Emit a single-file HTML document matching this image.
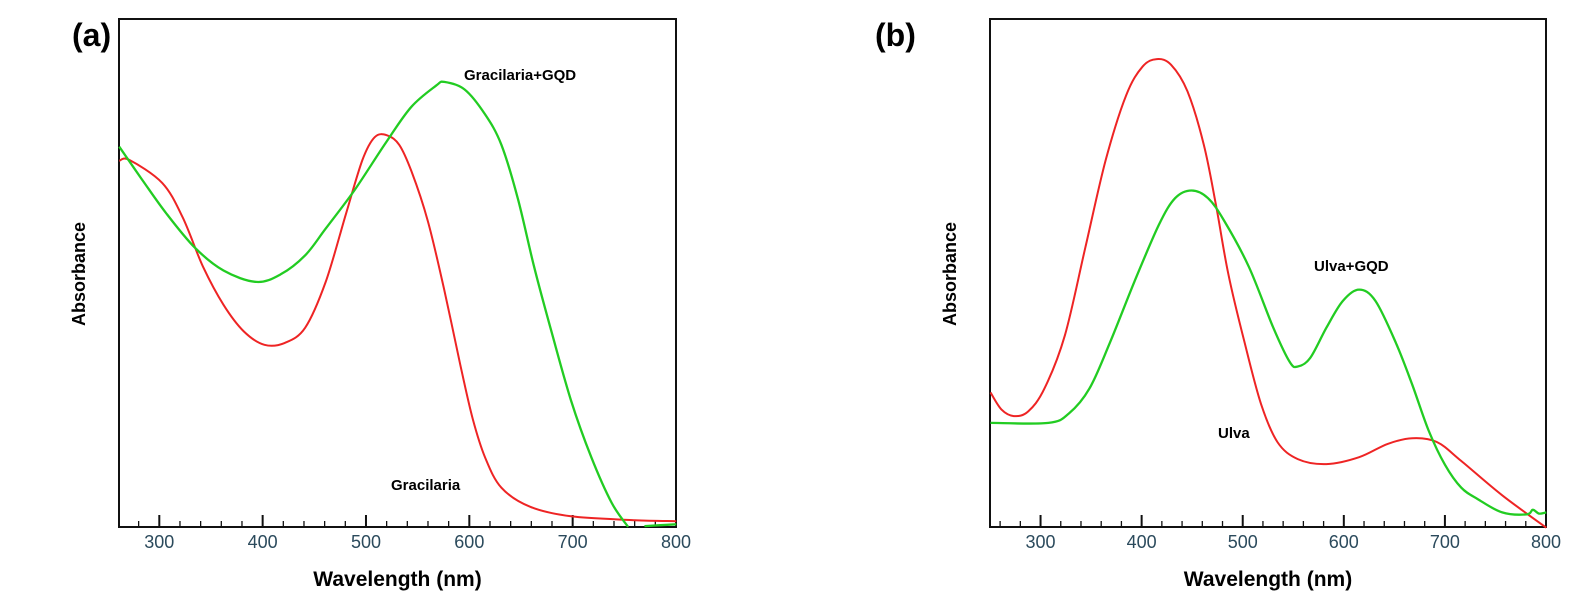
<!DOCTYPE html>
<html><head><meta charset="utf-8"><style>
body{margin:0;background:#fff;width:1571px;height:597px;overflow:hidden}
svg{display:block}
text{font-family:"Liberation Sans",Arial,sans-serif}
</style></head><body>
<svg id="s" width="1571" height="597" xmlns="http://www.w3.org/2000/svg">
<text x="72" y="46" font-size="32" font-weight="bold">(a)</text>
<text x="875" y="46" font-size="32" font-weight="bold">(b)</text>
</svg>
<script>
const S=document.getElementById('s'),NS='http://www.w3.org/2000/svg';
function el(t,a,txt){const e=document.createElementNS(NS,t);for(const k in a)e.setAttribute(k,a[k]);if(txt)e.textContent=txt;S.appendChild(e);return e;}
function path(pts){let d='M'+pts[0][0]+','+pts[0][1];for(let i=0;i<pts.length-1;i++){const p0=pts[i-1]||pts[i],p1=pts[i],p2=pts[i+1],p3=pts[i+2]||p2;
d+=' C'+(p1[0]+(p2[0]-p0[0])/6).toFixed(1)+','+(p1[1]+(p2[1]-p0[1])/6).toFixed(1)+' '+(p2[0]-(p3[0]-p1[0])/6).toFixed(1)+','+(p2[1]-(p3[1]-p1[1])/6).toFixed(1)+' '+p2[0].toFixed(1)+','+p2[1].toFixed(1);}return d;}
function conv(off,arr){return arr.map(p=>[off+p[0]*0.4087,p[1]*0.381]);}
function panel(L,R,x0,x1,lab){
 const T=19,B=527,sc=(R-L)/(x1-x0);
 el('rect',{x:L,y:T,width:R-L,height:B-T,fill:'none',stroke:'#111','stroke-width':2});
 for(let w=Math.ceil(x0/20)*20;w<=x1;w+=20){const x=L+(w-x0)*sc;const maj=w%100==0;
  el('line',{x1:x,x2:x,y1:B,y2:B-(maj?12:6),stroke:'#111','stroke-width':maj?2:1.3});
  if(maj)el('text',{x:x,y:548,'font-size':18,'text-anchor':'middle',fill:'#2b4a5c'},String(w));}
 el('text',{x:(L+R)/2,y:586,'font-size':21,'font-weight':'bold','text-anchor':'middle'},'Wavelength (nm)');
 el('text',{x:0,y:0,'font-size':18,'font-weight':'bold','text-anchor':'middle',transform:'translate('+(L-34)+',274) rotate(-90)'},'Absorbance');
}
panel(119,676,261,800);
panel(990,1546,250,800);
const ra=[[145,422],[170,420],[250,480],[300,570],[350,700],[400,800],[450,870],[500,905],[550,900],[600,860],[650,740],[700,560],[740,420],[770,360],[800,355],[830,380],[860,450],[900,580],[940,760],[980,960],[1010,1100],[1040,1200],[1080,1280],[1150,1330],[1250,1355],[1400,1365],[1508,1368]];
const ga=[[145,385],[200,470],[260,560],[330,650],[400,710],[480,740],[540,720],[600,670],[650,600],[720,500],[800,370],[860,280],[920,225],[940,215],[990,235],[1040,300],[1080,380],[1120,520],[1160,700],[1200,860],[1250,1050],[1300,1200],[1350,1320],[1390,1383]];
const ga2=[[1430,1381],[1508,1376]];
const rb=[[148,1030],[175,1075],[205,1092],[240,1080],[280,1020],[330,880],[380,650],[430,420],[480,250],[520,175],[555,155],[590,170],[630,240],[670,380],[700,540],[730,720],[770,900],[810,1060],[850,1160],[900,1205],[970,1218],[1050,1200],[1120,1165],[1180,1150],[1240,1160],[1300,1210],[1400,1300],[1508,1385]];
const gb=[[148,1110],[290,1110],[340,1085],[390,1020],[440,900],[500,740],[560,590],[600,520],[640,500],[680,520],[720,580],[780,700],[840,860],[880,950],[900,962],[930,940],[970,860],[1010,790],[1050,760],[1090,790],[1140,900],[1180,1010],[1220,1130],[1260,1220],[1300,1280],[1340,1310],[1400,1345],[1460,1350],[1475,1338],[1490,1348],[1508,1345]];
const R='#ee2424',G='#22cc22';
el('path',{d:path(conv(60,ra)),fill:'none',stroke:R,'stroke-width':2});
el('path',{d:path(conv(60,ga)),fill:'none',stroke:G,'stroke-width':2.3});
el('path',{d:path(conv(60,ga2)),fill:'none',stroke:G,'stroke-width':2.3});
el('path',{d:path(conv(930,rb)),fill:'none',stroke:R,'stroke-width':2});
el('path',{d:path(conv(930,gb)),fill:'none',stroke:G,'stroke-width':2.3});
el('text',{x:464,y:80,'font-size':15,'font-weight':'bold'},'Gracilaria+GQD');
el('text',{x:391,y:490,'font-size':15,'font-weight':'bold'},'Gracilaria');
el('text',{x:1314,y:271,'font-size':15,'font-weight':'bold'},'Ulva+GQD');
el('text',{x:1218,y:438,'font-size':15,'font-weight':'bold'},'Ulva');
</script>
</body></html>
